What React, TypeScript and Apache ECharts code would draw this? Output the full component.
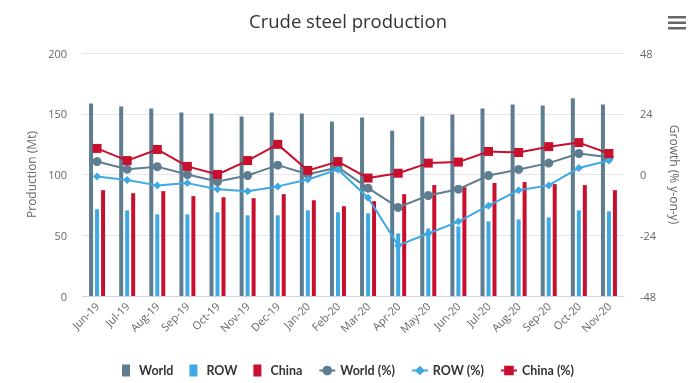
import React, { useEffect, useRef } from "react";
import * as echarts from "echarts";

const categories = ["Jun-19","Jul-19","Aug-19","Sep-19","Oct-19","Nov-19","Dec-19","Jan-20","Feb-20","Mar-20","Apr-20","May-20","Jun-20","Jul-20","Aug-20","Sep-20","Oct-20","Nov-20"];
const worldProd = [158.5,156,154.4,151,150.2,147.7,151,150.2,143.6,146.9,136,147.7,149.4,154.4,157.7,156.8,162.7,157.7];
const rowProd = [71.4,70.5,67.2,67.2,68.9,66.4,66.4,70.5,68.9,68,51.5,55.6,57.3,61.4,63,64.7,70.5,69.7];
const chinaProd = [87.1,84.6,86.3,82.2,81.3,80.5,83.8,78.8,73.9,78,83.8,91.3,89.6,93,93.8,92.1,91.3,87.1];
const worldGrowth = [5.1,2.1,3.1,0,-2.8,-0.4,3.7,0.1,2.8,-5.4,-13,-8.3,-5.8,-0.4,2,4.5,8.3,6.8];
const rowGrowth = [-0.8,-2.2,-4.3,-3.4,-5.8,-6.6,-4.7,-2,2,-9.2,-28,-23.3,-18.6,-12.3,-6.2,-4.3,2.6,5.5];
const chinaGrowth = [10.3,5.5,9.9,3.2,0,5.5,11.9,1.6,5.1,-1.4,0.5,4.5,4.9,9.1,8.7,11,12.6,8.3];

const FONT = "Open Sans";
const C_WORLD = "#5f7d90";
const C_ROW = "#3ea9e3";
const C_CHINA = "#c8102e";

export default function App() {
  const ref = useRef<HTMLDivElement>(null);
  useEffect(() => {
    if (!ref.current) return;
    const chart = echarts.init(ref.current, undefined, { renderer: "svg" });
    const barIcon = "path://M0,0 L8,0 L8,12 L0,12 Z";
    chart.setOption({
      animation: false,
      textStyle: { fontFamily: FONT },
      title: {
        text: "Crude steel production",
        left: "center",
        top: 6,
        textStyle: { fontFamily: FONT, fontSize: 18.5, fontWeight: "normal", color: "#333" },
      },
      graphic: [
        { type: "rect", shape: { x: 668, y: 16, width: 18, height: 2.5 }, style: { fill: "#666" } },
        { type: "rect", shape: { x: 668, y: 21.5, width: 18, height: 2.5 }, style: { fill: "#666" } },
        { type: "rect", shape: { x: 668, y: 27, width: 18, height: 2.5 }, style: { fill: "#666" } },
      ],
      legend: {
        bottom: 1,
        left: "center",
        itemGap: 16,
        itemWidth: 16,
        itemHeight: 12,
        textStyle: { fontFamily: "Lato", fontSize: 12.5, fontWeight: "bold", color: "#333" },
        data: [
          { name: "World", icon: barIcon },
          { name: "ROW", icon: barIcon },
          { name: "China", icon: barIcon },
          { name: "World (%)" },
          { name: "ROW (%)" },
          { name: "China (%)" },
        ],
      },
      grid: { left: 82, right: 72, top: 53, bottom: 87 },
      xAxis: {
        type: "category",
        data: categories,
        boundaryGap: true,
        axisLine: { lineStyle: { color: "#ccd6eb" } },
        axisTick: { length: 10, lineStyle: { color: "#ccd6eb" } },
        axisLabel: { rotate: 45, fontSize: 11, color: "#666", margin: 8, fontFamily: FONT },
      },
      yAxis: [
        {
          type: "value",
          min: 0,
          max: 200,
          interval: 50,
          name: "Production (Mt)",
          nameLocation: "middle",
          nameGap: 45,
          nameTextStyle: { color: "#666", fontSize: 12, fontFamily: FONT },
          axisLine: { show: false },
          axisTick: { show: false },
          axisLabel: { color: "#666", fontSize: 11, margin: 15, fontFamily: FONT },
          splitLine: { lineStyle: { color: "#e6e6e6" } },
        },
        {
          type: "value",
          min: -48,
          max: 48,
          interval: 24,
          name: "Growth (% y-on-y)",
          nameLocation: "middle",
          nameGap: 44,
          nameRotate: -90,
          nameTextStyle: { color: "#666", fontSize: 12, fontFamily: FONT },
          axisLine: { show: false },
          axisTick: { show: false },
          axisLabel: { color: "#666", fontSize: 11, margin: 16, fontFamily: FONT },
          splitLine: { show: false },
        },
      ],
      series: [
        { name: "World", type: "bar", data: worldProd, barWidth: 4, barGap: "50%", itemStyle: { color: C_WORLD } },
        { name: "ROW", type: "bar", data: rowProd, barWidth: 4, barGap: "50%", itemStyle: { color: C_ROW } },
        { name: "China", type: "bar", data: chinaProd, barWidth: 4, barGap: "50%", itemStyle: { color: C_CHINA } },
        {
          name: "World (%)", type: "line", yAxisIndex: 1, data: worldGrowth,
          symbol: "circle", symbolSize: 9, lineStyle: { width: 2, color: C_WORLD }, itemStyle: { color: C_WORLD },
        },
        {
          name: "ROW (%)", type: "line", yAxisIndex: 1, data: rowGrowth,
          symbol: "diamond", symbolSize: 8, lineStyle: { width: 2, color: C_ROW }, itemStyle: { color: C_ROW },
        },
        {
          name: "China (%)", type: "line", yAxisIndex: 1, data: chinaGrowth,
          symbol: "rect", symbolSize: 9, lineStyle: { width: 2, color: C_CHINA }, itemStyle: { color: C_CHINA },
        },
      ],
    });
    return () => chart.dispose();
  }, []);
  return <div ref={ref} style={{ position: "fixed", left: 0, top: 0, width: 696, height: 383 }} />;
}
